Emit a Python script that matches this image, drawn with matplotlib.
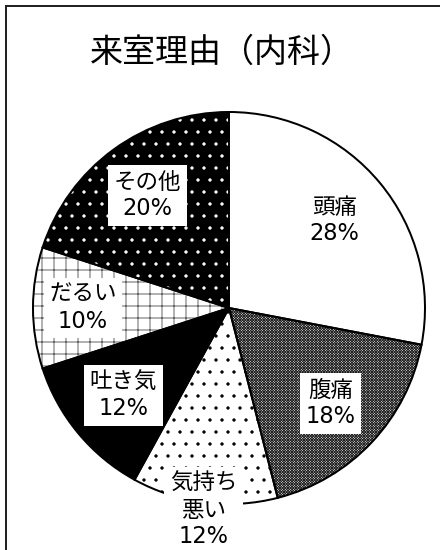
import numpy as np
import matplotlib
matplotlib.use("Agg")
import matplotlib.pyplot as plt
from matplotlib.lines import Line2D

# ---- data ----
title = "来室理由（内科）"
categories = ["頭痛", "腹痛", "気持ち\n悪い", "吐き気", "だるい", "その他"]
values = [28, 18, 12, 12, 10, 20]

# ---- styles ----
facecolors = ["white", "white", "white", "black", "white", "black"]
hatchcolors = ["black", "#222222", "black", "black", "#555555", "white"]
hatches = [None, "xxxxxxxxx", ".", None, "+", "."]
label_r = [0.70, 0.71, 1.04, 0.70, 0.745, 0.71]
fam = ["DejaVu Sans", "Noto Sans CJK JP"]

plt.rcParams["hatch.linewidth"] = 0.9
DPI = 72
fig = plt.figure(figsize=(440 / DPI, 550 / DPI), dpi=DPI)
fig.patch.set_facecolor("white")

R = 196
cx, cy = 229, 308
ax = fig.add_axes([(cx - R) / 440, (550 - cy - R) / 550, 2 * R / 440, 2 * R / 550])

# hatched fill layer
wedges, _ = ax.pie(values, startangle=90, counterclock=False, radius=1,
                   wedgeprops=dict(linewidth=0))
for w, fc, hc, h in zip(wedges, facecolors, hatchcolors, hatches):
    w.set_facecolor(fc)
    w.set_edgecolor(hc)
    w.set_linewidth(0)
    if h:
        w.set_hatch(h)

# outline layer
wedges2, _ = ax.pie(values, startangle=90, counterclock=False, radius=1,
                    wedgeprops=dict(facecolor="none", edgecolor="black", linewidth=2))

ax.set_xlim(-1, 1)
ax.set_ylim(-1, 1)
ax.set_aspect("equal")
ax.axis("off")

for w, lab, v, r in zip(wedges, categories, values, label_r):
    ang = np.deg2rad((w.theta1 + w.theta2) / 2)
    x, y = r * np.cos(ang), r * np.sin(ang)
    ax.text(x, y, f"{lab}\n{v}%", ha="center", va="center", fontsize=22.5,
            family=fam, linespacing=1.2, zorder=5, clip_on=False,
            bbox=dict(boxstyle="square,pad=0.25", facecolor="white", edgecolor="none"))

fig.text(222 / 440, 1 - 52 / 550, title, ha="center", va="center", fontsize=33,
         family=["Noto Sans CJK JP", "DejaVu Sans"])

# frame (left and top edges)
fig.add_artist(Line2D([6 / 440, 6 / 440], [0, 1 - 6 / 550], transform=fig.transFigure,
                      color="#222222", linewidth=2))
fig.add_artist(Line2D([6 / 440, 1], [1 - 6 / 550, 1 - 6 / 550], transform=fig.transFigure,
                      color="#222222", linewidth=2))

fig.savefig("out.png", dpi=DPI)
